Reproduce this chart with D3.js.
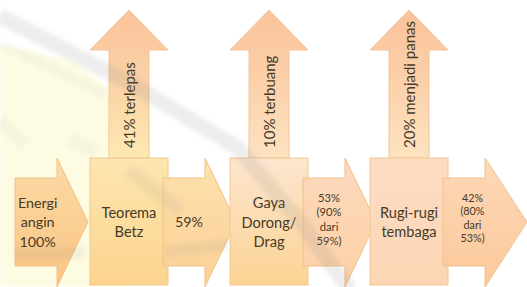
<!DOCTYPE html>
<html>
<head>
<meta charset="utf-8">
<script src="https://cdn.jsdelivr.net/npm/d3@7"></script>
<style>
  html, body { margin: 0; padding: 0; background: #ffffff; }
  svg { display: block; }
</style>
</head>
<body>
<div id="chart"></div>
<script>
// ---- data ----
const stages = ["Teorema Betz", "Gaya Dorong/Drag", "Rugi-rugi tembaga"];
const stageLines = [["Teorema", "Betz"], ["Gaya", "Dorong/", "Drag"], ["Rugi-rugi", "tembaga"]];
const flowValues = [100, 59, 53, 42];
const flowLines = [["Energi", "angin", "100%"], ["59%"], ["53%", "(90%", "dari", "59%)"], ["42%", "(80%", "dari", "53%)"]];
const lossValues = [41, 10, 20];
const lossLabels = ["41% terlepas", "10% terbuang", "20% menjadi panas"];

// ---- layout ----
const W = 527, H = 287;
const svg = d3.select("#chart").append("svg").attr("width", W).attr("height", H);
const defs = svg.append("defs");

const x = d3.scaleBand().domain(stages).range([90, 448]).paddingInner(0.443).paddingOuter(0);

const boxTop = 158, boxBottom = 285;
const shaftTop = 178, shaftBottom = 266, headTop = 158, headBottom = 287, midY = 222;
const upTip = 10, upHeadBase = 50;

function grad(id, stops) {
  const g = defs.append("linearGradient").attr("id", id).attr("x1", 0).attr("y1", 0).attr("x2", 0).attr("y2", 1);
  stops.forEach(s => g.append("stop").attr("offset", s[0]).attr("stop-color", s[1]));
}
grad("gUp", [[0, "#fac39b"], [0.45, "#fbcfa9"], [1, "#fde3c0"]]);
grad("gUp1", [[0, "#fac39b"], [0.45, "#fbd0a6"], [1, "#fde9b2"]]);
grad("gFlow0", [[0, "#fcd9a4"], [1, "#f9c27f"]]);
grad("gFlow1", [[0, "#fde0ab"], [1, "#fbcf92"]]);
grad("gFlow2", [[0, "#fdd7bb"], [1, "#fcd0a4"]]);
grad("gFlow3", [[0, "#fdd7b7"], [1, "#fbc796"]]);
grad("gBox0", [[0, "#fde6b0"], [1, "#fcd48e"]]);
grad("gBox1", [[0, "#fde5cf"], [1, "#fcd394"]]);
grad("gBox2", [[0, "#fddcc4"], [1, "#fcd6b4"]]);
defs.append("filter").attr("id", "soft").attr("x", "-10%").attr("y", "-10%").attr("width", "120%").attr("height", "120%")
  .append("feGaussianBlur").attr("stdDeviation", 2);

// background pale yellow tint (watermark base)
svg.append("path")
  .attr("d", "M0,45 L70,60 L125,100 L125,287 L0,287 Z")
  .attr("fill", "#fdfbe2").attr("filter", "url(#soft)");

// flow arrow geometry
const flows = flowValues.map((v, i) => {
  let left, headStart, tip;
  if (i === 0) {
    tip = x(stages[0]) - 2; left = tip - 73; headStart = left + 42;
  } else {
    left = x(stages[i - 1]) + x.bandwidth() - 5; headStart = left + 42;
    tip = (i === flowValues.length - 1) ? W : headStart + 31;
  }
  const visLeft = i === 0 ? left : x(stages[i - 1]) + x.bandwidth();
  return { v, i, left, headStart, tip, visLeft, lines: flowLines[i] };
});

function rightArrow(f) {
  return `M${f.left},${shaftTop} L${f.headStart},${shaftTop} L${f.headStart},${headTop} L${f.tip},${midY} L${f.headStart},${headBottom} L${f.headStart},${shaftBottom} L${f.left},${shaftBottom} Z`;
}
function upArrow(s) {
  const x0 = x(s), bw = x.bandwidth(), cx = x0 + bw / 2, sw = 40;
  return `M${cx - sw / 2},${boxTop} L${cx - sw / 2},${upHeadBase} L${x0},${upHeadBase} L${cx},${upTip} L${x0 + bw},${upHeadBase} L${cx + sw / 2},${upHeadBase} L${cx + sw / 2},${boxTop} Z`;
}

const textColor = "#463a26";
const font = "Lato, 'Open Sans', sans-serif";

// up arrows
stages.forEach((s, i) => {
  svg.append("path").attr("d", upArrow(s))
    .attr("fill", i === 0 ? "url(#gUp1)" : "url(#gUp)")
    .attr("stroke", "#f4c49b").attr("stroke-width", 1);
  const cx = x(s) + x.bandwidth() / 2;
  svg.append("text")
    .attr("transform", `translate(${cx + 6},148) rotate(-90)`)
    .attr("text-anchor", "start")
    .attr("font-family", font).attr("font-size", 15)
    .attr("fill", textColor)
    .text(lossLabels[i]);
});

// interleave flows and boxes
function drawFlow(f) {
  svg.append("path").attr("d", rightArrow(f))
    .attr("fill", `url(#gFlow${f.i})`).attr("fill-opacity", 0.97)
    .attr("stroke", "#f1c28c").attr("stroke-width", 1);
  const cx = f.visLeft + (Math.min(f.tip, W) - f.visLeft) * 0.31;
  const n = f.lines.length;
  const small = n === 4;
  const fs = f.i === 3 ? 10.8 : (small ? 11.2 : 14.3);
  const lh = f.i === 3 ? 13.5 : (small ? 14.3 : 19.5);
  const cy = f.i === 3 ? 218 : (small ? 219.5 : midY);
  const t = svg.append("text").attr("font-family", font).attr("font-size", fs)
    .attr("fill", textColor).attr("text-anchor", "middle");
  f.lines.forEach((ln, k) => {
    t.append("tspan").attr("x", cx)
      .attr("y", cy + (k - (n - 1) / 2) * lh)
      .attr("dy", "0.35em").text(ln);
  });
}
function drawBox(s, i) {
  svg.append("rect").attr("x", x(s)).attr("y", boxTop)
    .attr("width", x.bandwidth()).attr("height", boxBottom - boxTop)
    .attr("fill", `url(#gBox${i})`)
    .attr("stroke", "#f1c892").attr("stroke-width", 1);
  const cx = x(s) + x.bandwidth() / 2;
  const lines = stageLines[i];
  const n = lines.length, lh = 19.5;
  const t = svg.append("text").attr("font-family", font).attr("font-size", 14.6)
    .attr("fill", textColor).attr("text-anchor", "middle");
  lines.forEach((ln, k) => {
    t.append("tspan").attr("x", cx)
      .attr("y", (boxTop + boxBottom) / 2 + 1 + (k - (n - 1) / 2) * lh)
      .attr("dy", "0.35em").text(ln);
  });
}
drawFlow(flows[0]);
stages.forEach((s, i) => { drawBox(s, i); drawFlow(flows[i + 1]); });

// faint watermark strokes over everything
const wm = svg.append("g").attr("fill", "none").attr("stroke", "#7d7d7d")
  .attr("stroke-linejoin", "round").attr("pointer-events", "none").attr("filter", "url(#soft)");
wm.append("path").attr("d", "M0,16 L128,82 L238,148 L300,222 L350,290").attr("stroke-width", 15).attr("opacity", 0.14);
wm.append("path").attr("d", "M0,44 L105,94").attr("stroke-width", 9).attr("opacity", 0.06);
wm.append("path").attr("d", "M128,170 L180,210").attr("stroke-width", 14).attr("opacity", 0.1);
wm.append("path").attr("d", "M15,254 L85,252 M165,252 L228,245").attr("stroke-width", 11).attr("opacity", 0.1);
wm.append("path").attr("d", "M0,120 L25,145 M70,140 L95,150").attr("stroke-width", 14).attr("opacity", 0.06);
</script>
</body>
</html>
